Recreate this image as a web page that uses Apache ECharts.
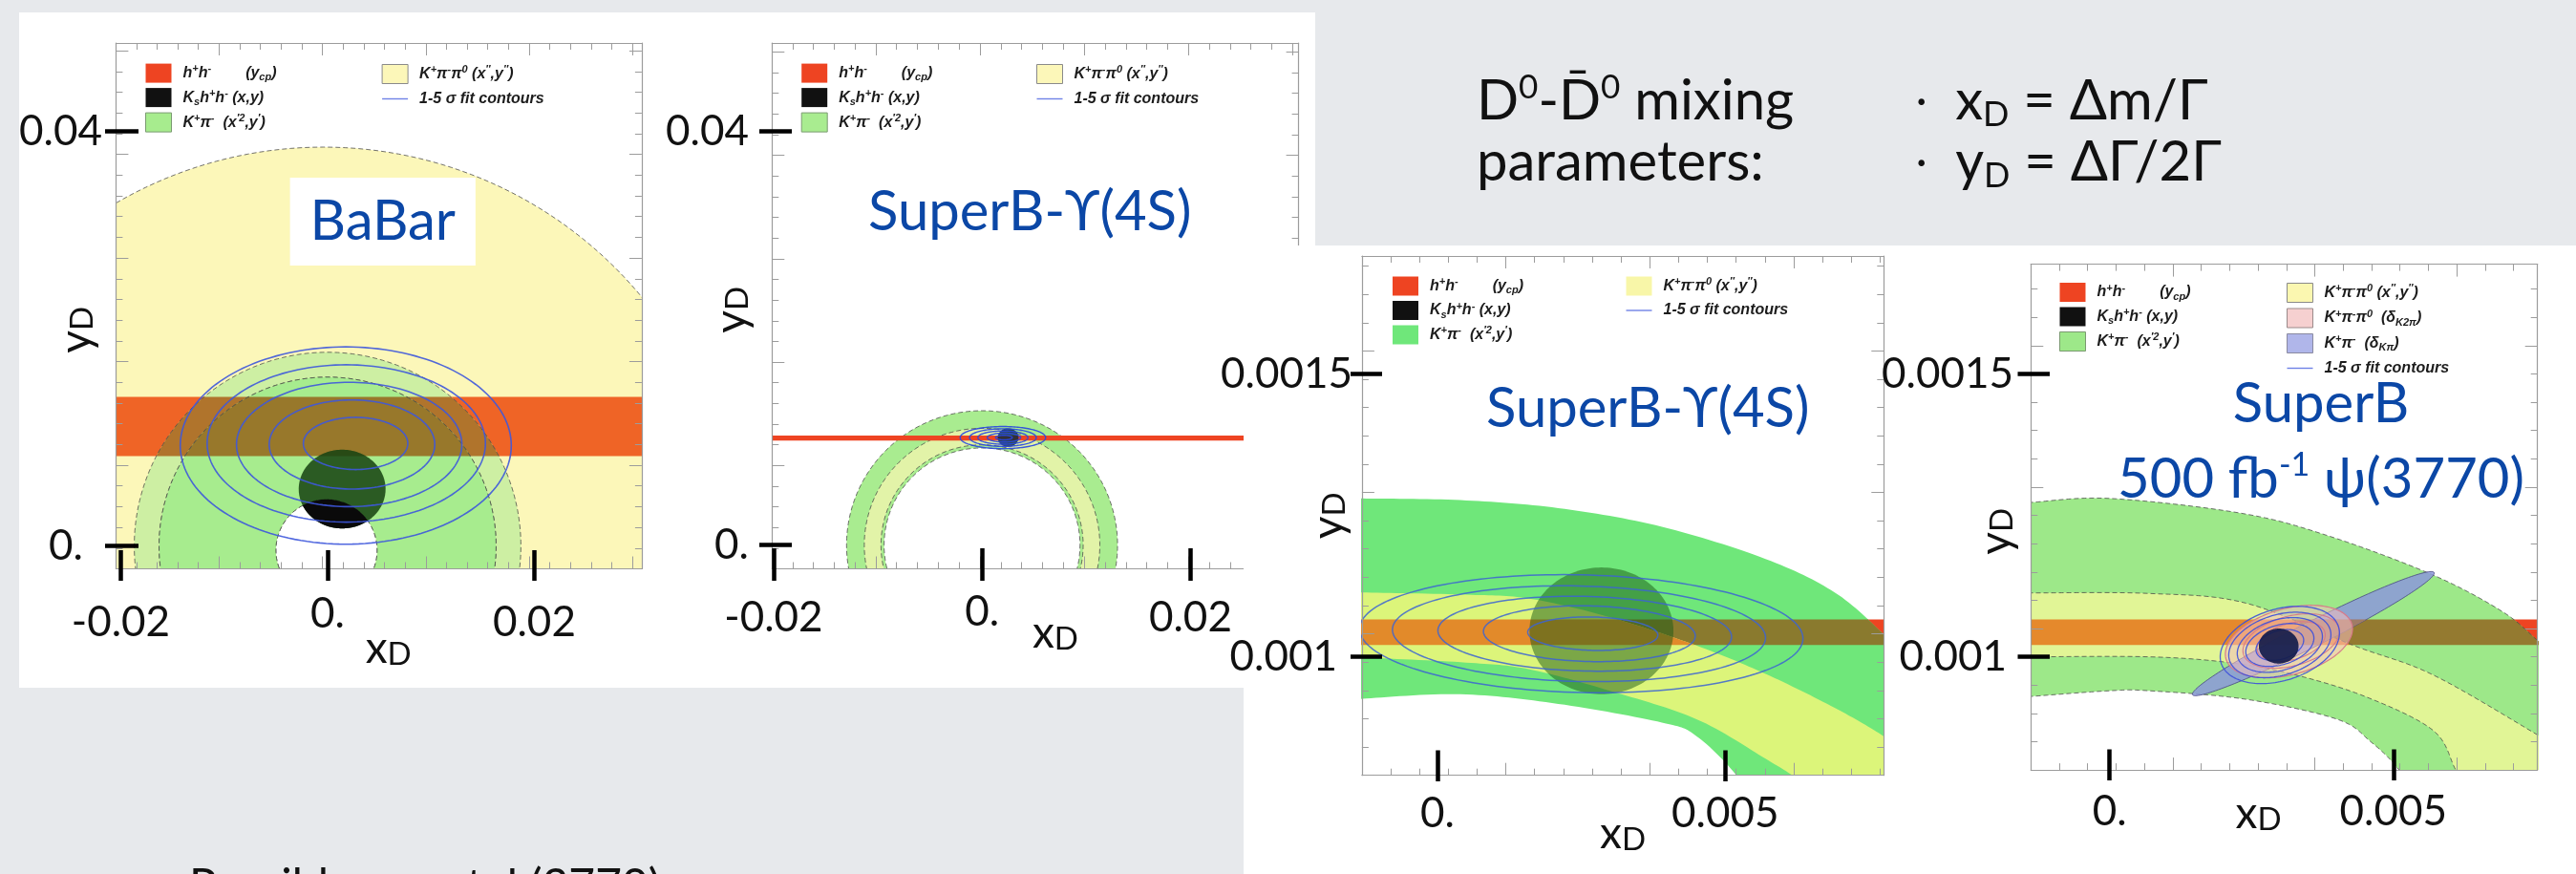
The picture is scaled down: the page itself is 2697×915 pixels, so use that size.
<!DOCTYPE html>
<html>
<head>
<meta charset="utf-8">
<title>D0-D0bar mixing: x_D vs y_D</title>
<script src="https://cdn.jsdelivr.net/npm/echarts@6.0.0/dist/echarts.min.js"></script>
<style>
  html, body { margin: 0; padding: 0; background: #e7e9ec; }
  #chart { width: 2697px; height: 915px; }
</style>
</head>
<body>
<div id="chart"></div>
<script>
// ---------------- values ----------------
// axis extents [xmin, xmax, ymin, ymax] of the four plots
const extBaBar = [-0.02047, 0.03039, -0.0022, 0.04855];
const extSB4S  = [-0.02015, 0.03037, -0.00229, 0.04856];
const extSB4SZ = [-0.00131, 0.007754, 0.0007907, 0.0017085];
const extSBPsi = [-0.001385, 0.007539, 0.0008, 0.001694];

// labelled ticks
const xTicksWide = [-0.02, 0, 0.02];
const xTickLabelsWide = ['-0.02', '0.', '0.02'];
const yTicksWide = [0, 0.04];
const yTickLabelsWide = ['0.', '0.04'];
const xTicksZoom = [0, 0.005];
const xTickLabelsZoom = ['0.', '0.005'];
const yTicksZoom = [0.001, 0.0015];
const yTickLabelsZoom = ['0.001', '0.0015'];

// BaBar: rings as [cxOuter, cyOuter, rOuter, cxInner, cyInner, rInner]
const babarKpipi0 = [-0.0004, -0.0015, 0.0400, -0.0001, -0.0004, 0.0049];
const babarKpiOuter = [0, 0, 0.0187, 0, 0, 0.0163];
const babarKpiInner = [0, 0, 0.0163, -0.0001, -0.0004, 0.0049];
const babarHH = [0.00868, 0.0144];                    // y_cp band [low, high]
const babarKshh = [0.00141, 0.0055, 0.0042, 0.0038];  // [cx, cy, rx, ry]
const babarContours = [                               // [cx, cy, rx, ry, tilt]
  [0.00271, 0.0099, 0.00505, 0.00252, 0],
  [0.00236, 0.0098, 0.00801, 0.0043, 0],
  [0.00209, 0.0098, 0.0109, 0.0060, 0],
  [0.00181, 0.0099, 0.01346, 0.00759, 0],
  [0.00176, 0.0097, 0.01601, 0.00952, 0]
];

// SuperB at Upsilon(4S), wide view
const sb4sKpi = [0, 0, 0.0130, 0, 0, 0.0094];
const sb4sKpipi0 = [0, 0, 0.0113, 0, 0, 0.0097];
const sb4sHH = [0.0101, 0.0106];
const sb4sKshh = [0.0025, 0.0104, 0.0010, 0.0009];
const sb4sContours = [
  [0.0021, 0.0104, 0.0008, 0.00022, 0],
  [0.0021, 0.0104, 0.0016, 0.00043, 0],
  [0.0020, 0.0104, 0.0024, 0.00064, 0],
  [0.0020, 0.0104, 0.0032, 0.00085, 0],
  [0.0020, 0.0104, 0.0041, 0.00107, 0]
];

// SuperB at Upsilon(4S), zoomed: band edges as [x, y]
const sb4szKpiTop = [[-0.0016, 0.00128], [-0.0013, 0.00128], [0.0004, 0.001277], [0.0021, 0.001263],
  [0.0039, 0.00123], [0.0057, 0.001173], [0.0069, 0.001114], [0.00775, 0.00104], [0.0081, 0.001]];
const sb4szKpiBottom = [[-0.0016, 0.000922], [-0.0013, 0.000926], [0.0004, 0.000934], [0.0021, 0.000917],
  [0.0039, 0.000884], [0.0045, 0.00086], [0.0052, 0.00079], [0.0056, 0.00072]];
const sb4szKpipi0Top = [[-0.0016, 0.001116], [-0.0013, 0.001114], [0.0005, 0.00111], [0.0016, 0.001103],
  [0.003, 0.00107], [0.0045, 0.00102], [0.0057, 0.00097], [0.0069, 0.00091], [0.00775, 0.00086], [0.0081, 0.00083]];
const sb4szKpipi0Bottom = [[-0.0016, 0.001], [-0.0013, 0.000999], [0.0005, 0.00099], [0.0016, 0.000978],
  [0.003, 0.00094], [0.0045, 0.00089], [0.0057, 0.00082], [0.0063, 0.00078], [0.0066, 0.00074]];
const sb4szHH = [0.001021, 0.001066];
const sb4szKshh = [0.00285, 0.001046, 0.00125, 0.000112];
const sb4szContours = [
  [0.0027, 0.001041, 0.00113, 0.0000295, -0.0022],
  [0.00264, 0.001041, 0.00184, 0.0000492, -0.0022],
  [0.00256, 0.001041, 0.00255, 0.000066, -0.0022],
  [0.00246, 0.001041, 0.00324, 0.0000844, -0.0022],
  [0.0025, 0.001041, 0.00385, 0.000104, -0.0022]
];

// SuperB with 500 fb^-1 at psi(3770)
const sbPsiKpiTop = [[-0.0017, 0.001272], [-0.00138, 0.001273], [0, 0.00128], [0.00231, 0.001254],
  [0.00385, 0.001214], [0.00569, 0.001145], [0.00692, 0.00108], [0.00754, 0.001029], [0.0079, 0.001]];
const sbPsiKpiBottom = [[-0.0017, 0.000928], [-0.00138, 0.00093], [0, 0.00094], [0.0007, 0.00094],
  [0.0024, 0.000925], [0.004, 0.00089], [0.0046, 0.00085], [0.0051, 0.0008], [0.0056, 0.00072]];
const sbPsiKpipi0Top = [[-0.0017, 0.001114], [-0.00138, 0.001113], [0.0007, 0.001112], [0.0024, 0.001095],
  [0.0043, 0.00102], [0.0057, 0.000968], [0.00754, 0.000862], [0.0079, 0.00084]];
const sbPsiKpipi0Bottom = [[-0.0017, 0.001], [-0.00138, 0.001], [0.0007, 0.001], [0.0021, 0.00099],
  [0.0032, 0.00097], [0.0045, 0.00093], [0.0057, 0.00087], [0.0061, 0.0008], [0.0064, 0.00075]];
const sbPsiHH = [0.001021, 0.001066];
const sbPsiKpiDelta = [0.00359, 0.001041, 0.00213, 0.0000245, 0.0502];
const sbPsiK2pi = [[0.00316, 0.001027, 0.00112, 0.00006, 0.02]];
const sbPsiK2piContours = [
  [0.0032, 0.001028, 0.00085, 0.000045, 0.02],
  [0.0032, 0.001027, 0.0006, 0.000033, 0.02]
];
const sbPsiContours = [
  [0.0030, 0.001021, 0.00042, 0.000026, 0.02],
  [0.0030, 0.001021, 0.0006, 0.000036, 0.02],
  [0.0030, 0.001021, 0.00075, 0.000046, 0.02],
  [0.0030, 0.001021, 0.0009, 0.000055, 0.02],
  [0.0030, 0.001021, 0.00105, 0.000065, 0.02]
];
const sbPsiKshh = [0.00298, 0.001019, 0.00035, 0.000031];

// ---------------- styling ----------------
const FONT = 'Lato, "Noto Sans", "DejaVu Sans", sans-serif';
const ROOTFONT = '"Liberation Sans", "DejaVu Sans", sans-serif';
const BLUE = '#0b47a6';
const INK = '#111111';
const FRAME = '#9c9c9c';
const HH_RED = '#ee4422';
const EDGE = { stroke: 'rgba(70,70,70,0.75)', lineWidth: 1, lineDash: [5, 3], fill: 'none' };

// ---------------- drawing helpers ----------------
function circlePts(api, cx, cy, r, start, dir, n) {
  const pts = [];
  for (let i = 0; i <= n; i++) {
    const t = start + dir * (i / n) * 2 * Math.PI;
    pts.push(api.coord([cx + r * Math.cos(t), cy + r * Math.sin(t)]));
  }
  return pts;
}
function ellipsePts(api, cx, cy, rx, ry, tilt, n) {
  const pts = [];
  for (let i = 0; i <= n; i++) {
    const t = (i / n) * 2 * Math.PI;
    const dx = rx * Math.cos(t);
    pts.push(api.coord([cx + dx, cy + ry * Math.sin(t) + tilt * dx]));
  }
  return pts;
}
// Catmull-Rom smoothing of an edge already in pixels
function smoothPx(pts, seg) {
  const out = [];
  for (let i = 0; i < pts.length - 1; i++) {
    const p0 = pts[Math.max(i - 1, 0)], p1 = pts[i], p2 = pts[i + 1], p3 = pts[Math.min(i + 2, pts.length - 1)];
    for (let k = 0; k < seg; k++) {
      const t = k / seg, t2 = t * t, t3 = t2 * t;
      const f = j => 0.5 * (2 * p1[j] + (-p0[j] + p2[j]) * t + (2 * p0[j] - 5 * p1[j] + 4 * p2[j] - p3[j]) * t2 +
        (-p0[j] + 3 * p1[j] - 3 * p2[j] + p3[j]) * t3);
      out.push([f(0), f(1)]);
    }
  }
  out.push(pts[pts.length - 1]);
  return out;
}
// Sutherland-Hodgman clip of a pixel polygon to a horizontal strip
function clipHalf(poly, keep, y) {
  const res = [];
  for (let i = 0; i < poly.length; i++) {
    const cur = poly[i], prev = poly[(i + poly.length - 1) % poly.length];
    const cIn = keep(cur), pIn = keep(prev);
    const cross = () => { const t = (y - prev[1]) / (cur[1] - prev[1]); return [prev[0] + t * (cur[0] - prev[0]), y]; };
    if (cIn) { if (!pIn) res.push(cross()); res.push(cur); }
    else if (pIn) res.push(cross());
  }
  return res;
}
// piece of a region lying inside the y_cp band, painted in the mixed colour
function bandPiece(api, poly, over) {
  if (!over) return null;
  const yHi = api.coord([0, over.band[1]])[1];
  const yLo = api.coord([0, over.band[0]])[1];
  let p = clipHalf(poly, q => q[1] >= yHi, yHi);
  if (p.length) p = clipHalf(p, q => q[1] <= yLo, yLo);
  if (p.length < 3) return null;
  return { type: 'polygon', shape: { points: p }, style: { fill: over.fill, stroke: 'none' } };
}
function annulusItem(fill, edge, over) {
  return function (params, api) {
    const v = i => api.value(i);
    const outer = circlePts(api, v(0), v(1), v(2), -Math.PI / 2, 1, 240);
    const inner = circlePts(api, v(3), v(4), v(5), -Math.PI / 2, -1, 120);
    const poly = outer.concat(inner);
    const children = [{ type: 'polygon', shape: { points: poly }, style: { fill: fill, stroke: 'none' } }];
    const piece = bandPiece(api, poly, over);
    if (piece) children.push(piece);
    if (edge) {
      children.push({ type: 'polyline', shape: { points: outer }, style: Object.assign({}, edge) });
      children.push({ type: 'polyline', shape: { points: inner }, style: Object.assign({}, edge) });
    }
    return { type: 'group', children: children };
  };
}
function curveBandItem(top, bottom, ext, fill, edge, over) {
  return function (params, api) {
    const topPx = smoothPx(top.map(p => api.coord(p)), 16);
    const botPx = smoothPx(bottom.map(p => api.coord(p)), 16);
    const corner = api.coord([ext[1] + (ext[1] - ext[0]), ext[2] - (ext[3] - ext[2])]);
    const poly = topPx.concat([corner], botPx.slice().reverse());
    const children = [{ type: 'polygon', shape: { points: poly }, style: { fill: fill, stroke: 'none' } }];
    const piece = bandPiece(api, poly, over);
    if (piece) children.push(piece);
    if (edge) {
      children.push({ type: 'polyline', shape: { points: topPx }, style: Object.assign({}, edge) });
      children.push({ type: 'polyline', shape: { points: botPx }, style: Object.assign({}, edge) });
    }
    return { type: 'group', children: children };
  };
}
function hBandItem(ext, style) {
  return function (params, api) {
    const a = api.coord([ext[0], api.value(0)]);
    const b = api.coord([ext[1], api.value(1)]);
    return { type: 'rect', shape: { x: a[0], y: b[1], width: b[0] - a[0], height: a[1] - b[1] }, style: style };
  };
}
function ellipseItem(style, over) {
  return function (params, api) {
    const pts = ellipsePts(api, api.value(0), api.value(1), api.value(2), api.value(3), api.value(4) || 0, 160);
    const el = { type: 'polygon', shape: { points: pts }, style: Object.assign({}, style) };
    const piece = bandPiece(api, pts, over);
    if (!piece) return el;
    return { type: 'group', children: [el, piece] };
  };
}
// part of an ellipse lying inside a circle (both convex)
function lensItem(fill) {
  return function (params, api) {
    const e = [0, 1, 2, 3].map(i => api.value(i));
    const c = [4, 5, 6].map(i => api.value(i));
    const pts = [];
    for (let i = 0; i < 360; i++) {
      const t = i / 360 * 2 * Math.PI;
      const p = [e[0] + e[2] * Math.cos(t), e[1] + e[3] * Math.sin(t)];
      if (Math.hypot(p[0] - c[0], p[1] - c[1]) <= c[2]) pts.push(p);
      const q = [c[0] + c[2] * Math.cos(t), c[1] + c[2] * Math.sin(t)];
      const dx = (q[0] - e[0]) / e[2], dy = (q[1] - e[1]) / e[3];
      if (dx * dx + dy * dy <= 1) pts.push(q);
    }
    if (pts.length < 3) return;
    let mx = 0, my = 0;
    pts.forEach(p => { mx += p[0]; my += p[1]; });
    mx /= pts.length; my /= pts.length;
    pts.sort((a, b) => Math.atan2(a[1] - my, a[0] - mx) - Math.atan2(b[1] - my, b[0] - mx));
    return { type: 'polygon', shape: { points: pts.map(p => api.coord(p)) }, style: { fill: fill } };
  };
}
function S(p, name, data, renderItem, z) {
  return { type: 'custom', name: name, xAxisIndex: 3 * p, yAxisIndex: 3 * p, coordinateSystem: 'cartesian2d',
    clip: true, silent: true, animation: false, z: z, data: data, renderItem: renderItem };
}

// ---------------- axes ----------------
const tickRich = {
  n: { fontFamily: FONT, fontSize: 44, color: INK },
  lift9: { fontFamily: FONT, fontSize: 44, color: INK, lineHeight: 26 },
  lift6: { fontFamily: FONT, fontSize: 44, color: INK, lineHeight: 32 },
  pad20: { fontFamily: FONT, fontSize: 44, color: INK, padding: [0, 20, 0, 0] },
  pad16: { fontFamily: FONT, fontSize: 44, color: INK, padding: [0, 16, 0, 0] },
  pad7: { fontFamily: FONT, fontSize: 44, color: INK, padding: [0, 7, 0, 0] }
};
const nameRich = {
  a: { fontFamily: FONT, fontSize: 46, color: INK, lineHeight: 50, verticalAlign: 'bottom' },
  b: { fontFamily: FONT, fontSize: 33, color: INK, lineHeight: 32, verticalAlign: 'bottom' }
};
function labelFmt(ticks, labels, styleOf) {
  return function (v) {
    const i = ticks.findIndex(t => Math.abs(t - v) < 1e-10);
    if (i < 0) return '';
    const s = labels[i];
    return '{' + ((styleOf && styleOf[s]) || 'n') + '|' + s + '}';
  };
}
const panels = [
  { ext: extBaBar, z: 3, fx: [0.01, 5], fy: [0.01, 5],
    x: { ticks: xTicksWide, labels: xTickLabelsWide, offset: 12.5, len: 32, margin: 22, style: { '0.': 'lift9' }, gap: 44, pad: [0, 0, 0, 20] },
    y: { ticks: yTicksWide, labels: yTickLabelsWide, offset: -23.6, len: 35, margin: 38, style: { '0.': 'pad20' }, gap: 42, pad: [0, 50, 0, 0] } },
  { ext: extSB4S, z: 3, fx: [0.01, 5], fy: [0.01, 5],
    x: { ticks: xTicksWide, labels: xTickLabelsWide, offset: 12.5, len: 34, margin: 17, style: { '0.': 'lift6' }, gap: 28, pad: [0, 0, 0, 42] },
    y: { ticks: yTicksWide, labels: yTickLabelsWide, offset: -20.7, len: 34, margin: 45, style: {}, gap: 40, pad: [0, 8, 0, 0] } },
  { ext: extSB4SZ, z: 8, fx: [0.0025, 5], fy: [0.00025, 5],
    x: { ticks: xTicksZoom, labels: xTickLabelsZoom, offset: 6.3, len: 32.5, margin: 12, style: {}, gap: 28, pad: [0, 0, 0, 0] },
    y: { ticks: yTicksZoom, labels: yTickLabelsZoom, offset: -21.1, len: 33, margin: 31, style: { '0.001': 'pad16' }, gap: 33, pad: [0, 0, 0, 0] } },
  { ext: extSBPsi, z: 8, fx: [0.0025, 5], fy: [0.00025, 5],
    x: { ticks: xTicksZoom, labels: xTickLabelsZoom, offset: 10.9, len: 32.4, margin: 11, style: {}, gap: 8, pad: [0, 54, 0, 0] },
    y: { ticks: yTicksZoom, labels: yTickLabelsZoom, offset: -19.7, len: 33.5, margin: 38, style: { '0.001': 'pad7' }, gap: 33, pad: [0, 30, 0, 0] } }
];
const xAxes = [], yAxes = [];
panels.forEach((P, g) => {
  const e = P.ext;
  const frame = (isX, pos) => ({
    type: 'value', gridIndex: g, position: pos, min: isX ? e[0] : e[2], max: isX ? e[1] : e[3],
    interval: isX ? P.fx[0] : P.fy[0], z: P.z,
    axisLine: { show: true, onZero: false, lineStyle: { color: FRAME, width: 1.2 } },
    axisTick: { show: true, inside: true, length: 13, lineStyle: { color: FRAME, width: 1 } },
    minorTick: { show: true, splitNumber: isX ? P.fx[1] : P.fy[1], length: 7, lineStyle: { color: FRAME, width: 1 } },
    axisLabel: { show: false }, splitLine: { show: false }, minorSplitLine: { show: false }
  });
  xAxes.push(frame(true, 'bottom'), frame(true, 'top'));
  yAxes.push(frame(false, 'left'), frame(false, 'right'));
  xAxes.push({
    type: 'value', gridIndex: g, position: 'bottom', offset: P.x.offset, min: e[0], max: e[1], z: P.z,
    axisLine: { show: false, onZero: false },
    axisTick: { show: true, inside: true, length: P.x.len, customValues: P.x.ticks, lineStyle: { color: '#000', width: 4.5 } },
    axisLabel: { show: true, customValues: P.x.ticks, margin: P.x.margin, fontFamily: FONT, fontSize: 44, color: INK,
      formatter: labelFmt(P.x.ticks, P.x.labels, P.x.style), rich: tickRich },
    splitLine: { show: false },
    name: '{a|x}{b|D}', nameLocation: 'middle', nameGap: P.x.gap, nameMoveOverlap: false,
    nameTextStyle: { padding: P.x.pad, rich: nameRich }
  });
  yAxes.push({
    type: 'value', gridIndex: g, position: 'left', offset: P.y.offset, min: e[2], max: e[3], z: P.z,
    axisLine: { show: false, onZero: false },
    axisTick: { show: true, inside: false, length: P.y.len, customValues: P.y.ticks, lineStyle: { color: '#000', width: 4.5 } },
    axisLabel: { show: true, customValues: P.y.ticks, margin: P.y.margin, fontFamily: FONT, fontSize: 44, color: INK,
      formatter: labelFmt(P.y.ticks, P.y.labels, P.y.style), rich: tickRich },
    splitLine: { show: false },
    name: '{a|y}{b|D}', nameLocation: 'middle', nameRotate: 90, nameGap: P.y.gap, nameMoveOverlap: false,
    nameTextStyle: { padding: P.y.pad, rich: nameRich }
  });
});

// ---------------- series ----------------
const series = [
  // BaBar
  S(0, 'hh', [babarHH], hBandItem(extBaBar, { fill: HH_RED }), 2),
  S(0, 'kpipi0', [babarKpipi0], annulusItem('#fcf7b9', EDGE, { band: babarHH, fill: '#ef6426' }), 2),
  S(0, 'kpi', [babarKpiOuter], annulusItem('#cdefa3', EDGE, { band: babarHH, fill: '#b0742c' }), 2),
  S(0, 'kpi', [babarKpiInner], annulusItem('#a7ec8e', EDGE, { band: babarHH, fill: '#98782b' }), 2),
  S(0, 'kshh', [babarKshh], ellipseItem({ fill: 'rgba(22,66,18,0.86)' }), 2),
  S(0, 'kshh', [babarKshh.concat(babarKpiInner.slice(3))], lensItem('#0a0a0a'), 2),
  S(0, 'contours', babarContours, ellipseItem({ fill: 'none', stroke: 'rgba(62,88,220,0.9)', lineWidth: 1.6 }), 2),
  // SuperB Upsilon(4S), wide
  S(1, 'kpi', [sb4sKpi], annulusItem('#a9ec90', EDGE), 2),
  S(1, 'kpipi0', [sb4sKpipi0], annulusItem('#e2f3a8', EDGE), 2),
  S(1, 'hh', [sb4sHH], hBandItem(extSB4S, { fill: HH_RED }), 2),
  S(1, 'kshh', [sb4sKshh], ellipseItem({ fill: 'rgba(15,45,60,0.85)' }), 2),
  S(1, 'contours', sb4sContours, ellipseItem({ fill: 'none', stroke: 'rgba(40,70,225,0.9)', lineWidth: 1.4 }), 2),
  // SuperB Upsilon(4S), zoomed
  S(2, 'hh', [sb4szHH], hBandItem(extSB4SZ, { fill: HH_RED }), 6),
  S(2, 'kpi', [0], curveBandItem(sb4szKpiTop, sb4szKpiBottom, extSB4SZ, '#6fe77a', null, { band: sb4szHH, fill: '#8a7a2e' }), 6),
  S(2, 'kpipi0', [0], curveBandItem(sb4szKpipi0Top, sb4szKpipi0Bottom, extSB4SZ, '#dcf57a', null, { band: sb4szHH, fill: '#e28a2a' }), 6),
  S(2, 'kshh', [sb4szKshh], ellipseItem({ fill: 'rgba(25,90,20,0.5)' }), 6),
  S(2, 'contours', sb4szContours, ellipseItem({ fill: 'none', stroke: 'rgba(60,100,210,0.85)', lineWidth: 1.5 }), 6),
  // SuperB psi(3770)
  S(3, 'hh', [sbPsiHH], hBandItem(extSBPsi, { fill: HH_RED }), 6),
  S(3, 'kpi', [0], curveBandItem(sbPsiKpiTop, sbPsiKpiBottom, extSBPsi, '#9de889', EDGE, { band: sbPsiHH, fill: '#947a30' }), 6),
  S(3, 'kpipi0', [0], curveBandItem(sbPsiKpipi0Top, sbPsiKpipi0Bottom, extSBPsi, '#e1f596', EDGE, { band: sbPsiHH, fill: '#e5892c' }), 6),
  S(3, 'kpidelta', [sbPsiKpiDelta], ellipseItem({ fill: 'rgba(140,152,218,0.85)', stroke: 'rgba(70,70,130,0.8)', lineWidth: 1 },
    { band: sbPsiHH, fill: '#a07c66' }), 6),
  S(3, 'k2pi', sbPsiK2pi, ellipseItem({ fill: 'rgba(246,190,190,0.55)', stroke: '#d77a8a', lineWidth: 1.2 }), 6),
  S(3, 'k2pi', sbPsiK2piContours, ellipseItem({ fill: 'none', stroke: '#d77a8a', lineWidth: 1.1 }), 6),
  S(3, 'contours', sbPsiContours, ellipseItem({ fill: 'none', stroke: 'rgba(60,80,220,0.9)', lineWidth: 1.3 }), 6),
  S(3, 'kshh', [sbPsiKshh], ellipseItem({ fill: 'rgba(20,28,75,0.92)' }), 6)
];

// ---------------- legends ----------------
const legendLabel = {
  hh: '{t|h}{p|+}{t|h}{p|-}{g|\u00a0}{t|(y}{b|cp}{t|)}',
  kshh: '{t|K}{b|s}{t|h}{p|+}{t|h}{p|-}{t| (x,y)}',
  kpi: '{t|K}{p|+}{t|π}{p|-}{t|  (x}{p|′2}{t|,y}{p|′}{t|)}',
  kpipi0: '{t|K}{p|+}{t|π}{p|-}{t|π}{p|0}{t| (x}{p|″}{t|,y}{p|″}{t|)}',
  k2pi: '{t|K}{p|+}{t|π}{p|-}{t|π}{p|0}{t|  (δ}{b|K2π}{t|)}',
  kpidelta: '{t|K}{p|+}{t|π}{p|-}{t|  (δ}{b|Kπ}{t|)}',
  contours: '{t|1-5 σ fit contours}'
};
const rootTxt = { fontFamily: ROOTFONT, fontWeight: 'bold', fontStyle: 'italic', color: '#1c1c1c' };
const legendRich = {
  t: Object.assign({ fontSize: 16, lineHeight: 20 }, rootTxt),
  p: Object.assign({ fontSize: 11, lineHeight: 12, verticalAlign: 'top' }, rootTxt),
  b: Object.assign({ fontSize: 11, lineHeight: 12, verticalAlign: 'bottom' }, rootTxt),
  g: Object.assign({ fontSize: 16, lineHeight: 20, width: 36 }, rootTxt)
};
const LINE_ICON = 'path://M0,0M27,20M0,9.3L27,9.3L27,10.7L0,10.7Z';
const box = (name, color, border) => ({ name: name, icon: 'rect',
  itemStyle: { color: color, borderColor: border || 'transparent', borderWidth: border ? 1 : 0 } });
const lineItem = { name: 'contours', icon: LINE_ICON, itemStyle: { color: '#6f82e6', borderWidth: 0 } };
function legendCol(left, top, items, z) {
  return { show: true, left: left, top: top, orient: 'vertical', z: z, selectedMode: false, padding: 0,
    itemWidth: 27, itemHeight: 20, itemGap: 5.5, data: items,
    formatter: n => legendLabel[n],
    textStyle: Object.assign({ fontSize: 16, padding: [0, 0, 0, 7], rich: legendRich }, rootTxt) };
}
const legends = [
  legendCol(152, 66.6, [box('hh', HH_RED), box('kshh', '#111'), box('kpi', '#a7ec8e', '#7a9a70')], 4),
  legendCol(399.6, 67, [box('kpipi0', '#fcf7b9', '#8a8a8a'), lineItem], 4),
  legendCol(838.7, 66.6, [box('hh', HH_RED), box('kshh', '#111'), box('kpi', '#a9ec90', '#7a9a70')], 4),
  legendCol(1085, 67, [box('kpipi0', '#fcf7b9', '#8a8a8a'), lineItem], 4),
  legendCol(1458, 289.5, [box('hh', HH_RED), box('kshh', '#111'), box('kpi', '#6fe77a')], 9),
  legendCol(1702.5, 289.5, [box('kpipi0', '#f8f6a8'), lineItem], 9),
  legendCol(2156, 296, [box('hh', HH_RED), box('kshh', '#111'), box('kpi', '#9de889', '#7a9a70')], 9),
  legendCol(2394, 296, [box('kpipi0', '#fbf7b0', '#8a8a8a'), box('k2pi', '#f6d0d0', '#9a8a8a'),
    box('kpidelta', '#b0b6ea', '#8a8aa0'), lineItem], 9)
];

// ---------------- labels and slide text ----------------
const big = { fontFamily: FONT, fontSize: 58, fontWeight: 'normal', color: BLUE };
const slideRich = {
  t: { fontFamily: FONT, fontSize: 58, fontWeight: 'normal', color: INK, lineHeight: 64 },
  s: { fontFamily: FONT, fontSize: 35, fontWeight: 'normal', color: INK, lineHeight: 46, verticalAlign: 'top' },
  u: { fontFamily: FONT, fontSize: 36, fontWeight: 'normal', color: INK, lineHeight: 50, verticalAlign: 'bottom' },
  d: { fontFamily: FONT, fontSize: 44, fontWeight: 'normal', color: INK, lineHeight: 64 }
};
const titles = [
  { text: 'BaBar', left: 303.6, top: 186, padding: [17, 21, 17, 21], backgroundColor: '#ffffff', textStyle: big, z: 4 },
  { text: 'SuperB-ϒ(4S)', left: 909, top: 193, padding: 0, textStyle: big, z: 4 },
  { text: 'SuperB-ϒ(4S)', left: 1556, top: 399, padding: 0, textStyle: big, z: 9 },
  { text: 'SuperB', left: 2430, textAlign: 'center', top: 394, padding: 0, textStyle: big, z: 9 },
  { text: '{a|500 fb}{s|-1}{a| ψ(3770)}', left: 2430, textAlign: 'center', top: 470, padding: 0, z: 9,
    textStyle: { rich: { a: Object.assign({ lineHeight: 64 }, big), s: Object.assign({}, big, { fontSize: 34, lineHeight: 40, verticalAlign: 'top' }) } } },
  { text: '{t|D}{s|0}{t|-D\u0304}{s|0}{t| mixing}\n{t|parameters:}', left: 1546, top: 74, padding: 0, z: 9,
    textStyle: { fontWeight: 'normal', rich: slideRich } },
  { text: '{d|·}{t|  x}{u|D}{t| = Δm/Γ}\n{d|·}{t|  y}{u|D}{t| = ΔΓ/2Γ}', left: 2006, top: 74, padding: 0, z: 9,
    textStyle: { fontWeight: 'normal', rich: slideRich } },
  { text: 'Possible run at ψ(3770)', left: 198, top: 905, padding: 0, z: 9,
    textStyle: { fontFamily: FONT, fontSize: 48, fontWeight: 'normal', color: INK } }
];

const grids = [
  { left: 121.4, top: 45, width: 550.5, height: 550.5 },
  { left: 808.3, top: 45, width: 551.3, height: 550.5 },
  { left: 1425.9, top: 268, width: 546.4, height: 543.7 },
  { left: 2126.3, top: 276.6, width: 530.4, height: 529.5 }
].map(g => Object.assign({ show: false, containLabel: false, outerBoundsMode: 'none' }, g));

const chart = echarts.init(document.getElementById('chart'), null, { renderer: 'canvas', width: 2697, height: 915 });
chart.setOption({
  backgroundColor: '#e7e9ec',
  animation: false,
  tooltip: { show: false },
  graphic: [
    { type: 'rect', shape: { x: 20, y: 13, width: 1357, height: 707 }, style: { fill: '#ffffff' }, z: -1, silent: true },
    { type: 'rect', shape: { x: 1302, y: 257, width: 1395, height: 658 }, style: { fill: '#ffffff' }, z: 5, silent: true }
  ],
  title: titles,
  legend: legends,
  grid: grids,
  xAxis: xAxes,
  yAxis: yAxes,
  series: series
});
</script>
</body>
</html>
